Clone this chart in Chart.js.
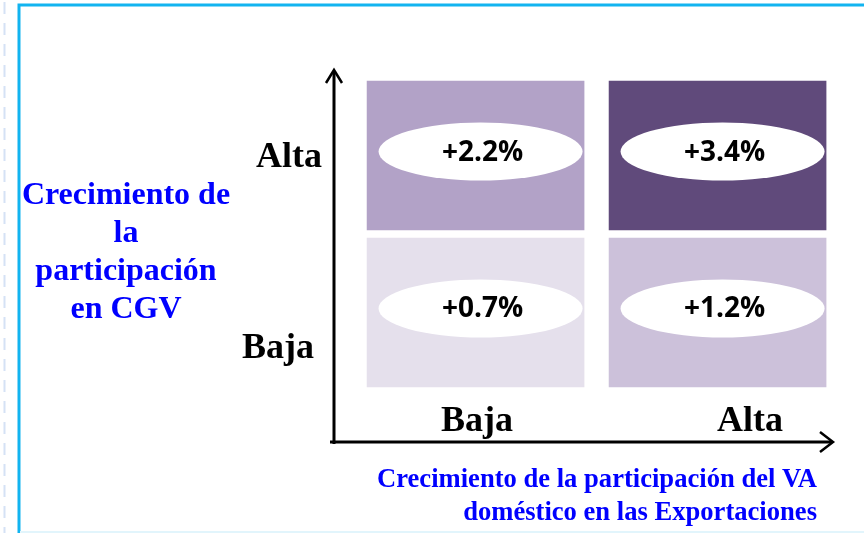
<!DOCTYPE html>
<html>
<head>
<meta charset="utf-8">
<script src="https://cdn.jsdelivr.net/npm/chart.js@4"></script>
<style>
  html, body { margin: 0; padding: 0; background: #ffffff; }
  #wrap { position: relative; width: 864px; height: 533px; }
</style>
</head>
<body>
<div id="wrap"><canvas id="matriz" width="864" height="533"></canvas></div>
<script>
// Categorías de los dos ejes
var categoriasVA = ['Baja', 'Alta'];      // eje X: participación del VA doméstico
var categoriasCGV = ['Baja', 'Alta'];     // eje Y: participación en CGV

// Crecimiento por celda (fila CGV, columna VA)
var crecimientoCGVBaja = [0.7, 1.2];
var crecimientoCGVAlta = [2.2, 3.4];

// Colores de las celdas
var coloresCGVBaja = ['#E5E0EC', '#CCC1DA'];
var coloresCGVAlta = ['#B2A2C7', '#604A7B'];

var tituloY = ['Crecimiento de', 'la', 'participación', 'en CGV'];
var tituloX = ['Crecimiento de la participación del VA', 'doméstico en las Exportaciones'];

function formatoValor(v) {
    return '+' + v.toFixed(1) + '%';
}

// Cada fila es un dataset apilado de altura 1
function filaDataset(nombre, valores, colores) {
    return {
        label: nombre,
        stack: 'matriz',
        data: valores.map(function (v, i) { return { x: i, y: 1, valor: v }; }),
        backgroundColor: colores,
        borderColor: '#ffffff',
        borderWidth: 4,
        borderSkipped: false,
        barThickness: 225
    };
}

// Marco de la diapositiva
var marcoPlugin = {
    id: 'marco',
    beforeDraw: function (chart) {
        var ctx = chart.ctx;
        ctx.save();
        // línea discontinua a la izquierda
        ctx.strokeStyle = '#D5E2F5';
        ctx.lineWidth = 2;
        ctx.setLineDash([12, 9]);
        ctx.beginPath();
        ctx.moveTo(4.5, 2);
        ctx.lineTo(4.5, 533);
        ctx.stroke();
        ctx.setLineDash([]);
        // borde cian
        ctx.strokeStyle = '#12B4F0';
        ctx.lineWidth = 3;
        ctx.beginPath();
        ctx.moveTo(19, 533);
        ctx.lineTo(19, 5);
        ctx.lineTo(864, 5);
        ctx.stroke();
        ctx.strokeStyle = '#E2F5FC';
        ctx.lineWidth = 2;
        ctx.beginPath();
        ctx.moveTo(20, 532);
        ctx.lineTo(864, 532);
        ctx.stroke();
        ctx.restore();
    }
};

// Elipses, valores, ejes con flecha y rótulos
var anotacionesPlugin = {
    id: 'anotaciones',
    afterDatasetsDraw: function (chart) {
        var ctx = chart.ctx;
        var area = chart.chartArea;
        ctx.save();

        // elipses con el valor
        chart.data.datasets.forEach(function (ds, d) {
            var meta = chart.getDatasetMeta(d);
            meta.data.forEach(function (el, i) {
                var cx = el.x + 5;
                var cy = (el.y + el.base) / 2 - 4;
                ctx.fillStyle = '#ffffff';
                ctx.beginPath();
                ctx.ellipse(cx, cy, 102, 29, 0, 0, Math.PI * 2);
                ctx.fill();
                ctx.fillStyle = '#000000';
                ctx.font = 'bold 28px "Open Sans", "Noto Sans", sans-serif';
                ctx.textAlign = 'center';
                ctx.textBaseline = 'middle';
                ctx.fillText(formatoValor(ds.data[i].valor), cx + 2, cy + 1);
            });
        });

        // ejes
        ctx.strokeStyle = '#000000';
        ctx.lineWidth = 3;
        ctx.lineCap = 'butt';
        ctx.beginPath();
        ctx.moveTo(area.left, area.bottom + 2);
        ctx.lineTo(area.left, area.top + 1);
        ctx.moveTo(area.left - 4, area.bottom);
        ctx.lineTo(area.right - 1, area.bottom);
        ctx.stroke();
        ctx.lineWidth = 2.5;
        ctx.beginPath();
        ctx.moveTo(area.left - 8, area.top + 13);
        ctx.lineTo(area.left, area.top);
        ctx.lineTo(area.left + 8, area.top + 13);
        ctx.moveTo(area.right - 13, area.bottom - 10);
        ctx.lineTo(area.right, area.bottom);
        ctx.lineTo(area.right - 13, area.bottom + 10);
        ctx.stroke();

        // rótulos de las categorías
        ctx.fillStyle = '#000000';
        ctx.font = 'bold 36px "Liberation Serif", "Times New Roman", serif';
        ctx.textBaseline = 'alphabetic';
        ctx.textAlign = 'right';
        ctx.fillText(categoriasCGV[1], 322, 167);
        ctx.fillText(categoriasCGV[0], 314, 358);
        ctx.textAlign = 'center';
        ctx.fillText(categoriasVA[0], 477, 431);
        ctx.fillText(categoriasVA[1], 750, 431);

        // títulos de los ejes
        ctx.fillStyle = '#0000FF';
        ctx.font = 'bold 32px "Liberation Serif", "Times New Roman", serif';
        ctx.textAlign = 'center';
        tituloY.forEach(function (t, k) {
            ctx.fillText(t, 126, 204 + k * 38);
        });
        ctx.font = 'bold 26.6px "Liberation Serif", "Times New Roman", serif';
        ctx.textAlign = 'right';
        tituloX.forEach(function (t, k) {
            ctx.fillText(t, 817, 487 + k * 33);
        });
        ctx.restore();
    }
};

var ctxMatriz = document.getElementById('matriz').getContext('2d');
var matriz = new Chart(ctxMatriz, {
    type: 'bar',
    data: {
        datasets: [
            filaDataset('CGV ' + categoriasCGV[0], crecimientoCGVBaja, coloresCGVBaja),
            filaDataset('CGV ' + categoriasCGV[1], crecimientoCGVAlta, coloresCGVAlta)
        ]
    },
    options: {
        responsive: false,
        animation: false,
        layout: { padding: { left: 334, right: 31, top: 70, bottom: 91 } },
        scales: {
            x: { type: 'linear', stacked: true, offset: false, min: -0.585, max: 1.477, display: false },
            y: { type: 'linear', stacked: true, min: -0.325, max: 2.045, display: false }
        },
        plugins: {
            legend: { display: false },
            tooltip: { enabled: false }
        }
    },
    plugins: [marcoPlugin, anotacionesPlugin]
});
</script>
</body>
</html>
